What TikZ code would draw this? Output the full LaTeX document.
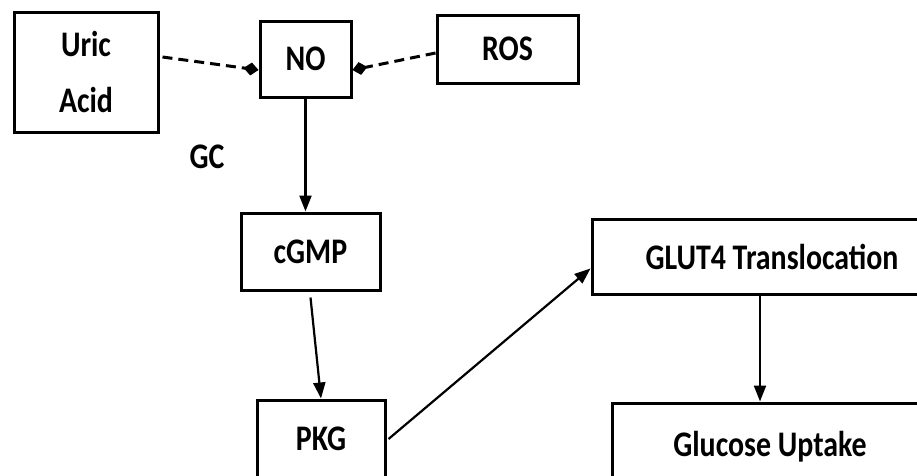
\documentclass[tikz,border=0pt]{standalone}
\usepackage{fontspec}
\setmainfont{Carlito}[FakeStretch=0.83]
\usetikzlibrary{arrows.meta}

\begin{document}
\begin{tikzpicture}[x=1pt,y=-1pt,
    box/.style={draw,line width=3pt,rectangle,inner sep=0pt,align=center,
        font=\bfseries\fontsize{36}{56}\selectfont},
    link/.style={line width=2.2pt,-{Triangle[length=16pt,width=12pt]}},
    inhib/.style={line width=3pt,dash pattern=on 10pt off 6pt,-{Diamond[length=15pt,width=13pt]}}]
    \useasboundingbox (0,0) rectangle (917,475);
    %% top row
    \node[box,minimum width=144pt,minimum height=120pt] (UA) at (86,72) {Uric\\Acid};
    \node[box,minimum width=91pt,minimum height=76pt] (NO) at (305.5,59) {NO};
    \node[box,minimum width=141pt,minimum height=68pt] (ROS) at (507.5,49) {ROS};
    \node[font=\bfseries\fontsize{36}{40}\selectfont] (GC) at (207,157) {GC};
    %% left column
    \node[box,minimum width=139pt,minimum height=77pt] (cGMP) at (310.5,251.5) {cGMP};
    \node[box,minimum width=128pt,minimum height=78pt] (PKG) at (321,439) {PKG};
    %% right column
    \node[box,minimum width=360pt,minimum height=75pt] (GLUT) at (772,256.5) {GLUT4 Translocation};
    \node[box,minimum width=316pt,minimum height=87pt] (GU) at (770,446.5) {Glucose Uptake};
    %% dashed links into NO
    \draw[inhib] ([xshift=3pt,yshift=15pt]UA.east) -- ([yshift=-11pt]NO.west);
    \draw[inhib] ([yshift=-4pt]ROS.west) -- ([yshift=-11pt]NO.east);
    %% arrows
    \draw[link] (NO.south) -- (NO.south |- cGMP.north);
    \draw[link] ([yshift=-6pt]cGMP.south) -- (PKG.north);
    \draw[link] ([xshift=2pt]PKG.east) -- ([yshift=-12pt]GLUT.west);
    \draw[link] ([xshift=-12pt]GLUT.south) -- ([xshift=-12pt]GLUT.south |- GU.north);
\end{tikzpicture}
\end{document}
